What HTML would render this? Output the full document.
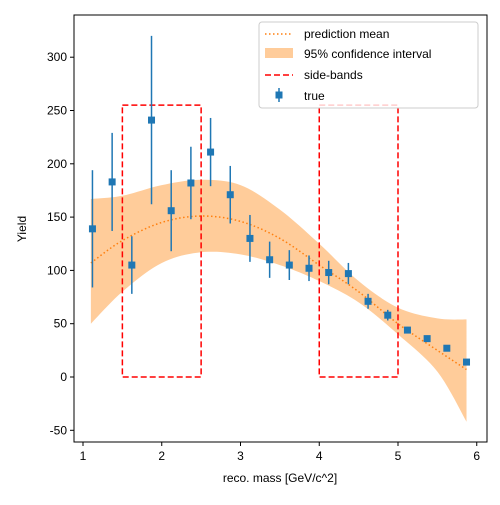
<!DOCTYPE html>
<html><head><meta charset="utf-8"><style>
body{margin:0;background:#fff;}
svg text{font-family:"Liberation Sans","DejaVu Sans",sans-serif;fill:#000;}
</style></head><body>
<svg id="chart" width="500" height="500" xmlns="http://www.w3.org/2000/svg">
</svg>
<script>
const xs=[1.12,1.37,1.62,1.87,2.12,2.37,2.62,2.87,3.12,3.37,3.62,3.87,4.12,4.37,4.62,4.87,5.12,5.37,5.62,5.87];
const ys=[139,183,105,241,156,182,211,171,130,110,105,102,98,97,71,58,44,36,27,14];
const errs=[55,46,27,79,38,34,32,27,22,17,14,12,11,10,7,5,3,3,2,2];
const curveX=[1.1,1.5,2,2.5,3,3.5,4,4.5,5,5.5,5.87];
const curveMean=[107,128,145,151,146,130,105,80,50,25,7];
const curveLo=[50,80,107,117,115,105,90,70,40,5,-42];
const curveHi=[167,170,180,185,180,157,125,90,65,55,54];
const bands=[[1.5,2.5],[4,5]];
const bandTop=255;
const xTicks=[1,2,3,4,5,6];
const yTicks=[-50,0,50,100,150,200,250,300];
const L=74,R=487,T=15,B=442;
const X=v=>83+(v-1)*78.75;
const Y=v=>377-v*1.066;
const NS="http://www.w3.org/2000/svg";
const svg=document.getElementById('chart');
function mk(tag,attrs,parent){const e=document.createElementNS(NS,tag);for(const k in attrs)e.setAttribute(k,attrs[k]);(parent||svg).appendChild(e);return e;}
// smooth (Catmull-Rom) sampled points
function smooth(xa,ya){const out=[];const n=xa.length;
 for(let i=0;i<n-1;i++){const p0=i>0?i-1:i,p3=i+2<n?i+2:i+1;
  for(let s=0;s<10;s++){const t=s/10,t2=t*t,t3=t2*t;
   const f=(a,b,c,d)=>0.5*(2*b+(-a+c)*t+(2*a-5*b+4*c-d)*t2+(-a+3*b-3*c+d)*t3);
   out.push([f(xa[p0],xa[i],xa[i+1],xa[p3]),f(ya[p0],ya[i],ya[i+1],ya[p3])]);}}
 out.push([xa[n-1],ya[n-1]]);return out;}
const hi=smooth(curveX,curveHi),lo=smooth(curveX,curveLo),mn=smooth(curveX,curveMean);
let d='M'+hi.map(p=>X(p[0])+','+Y(p[1])).join('L');
for(let i=lo.length-1;i>=0;i--)d+='L'+X(lo[i][0])+','+Y(lo[i][1]);
let e=mk('path',{d:d+'Z',fill:'#ffbb78',opacity:'0.75'});


e=mk('path',{d:'M'+mn.map(p=>X(p[0])+','+Y(p[1])).join('L'),fill:'none',stroke:'#ff7f0e','stroke-width':1.5,'stroke-dasharray':'1.5,2.5'});


bands.forEach((b,i)=>{
 const r=mk('rect',{x:X(b[0]),y:Y(bandTop),width:X(b[1])-X(b[0]),height:Y(0)-Y(bandTop),fill:'none',stroke:'#ff0000','stroke-width':1.5,'stroke-dasharray':'6,3'});
 
 
});
xs.forEach((x,i)=>{
 const g=mk('g',{});
 
 
 mk('line',{x1:X(x),x2:X(x),y1:Y(ys[i]-errs[i]),y2:Y(ys[i]+errs[i]),stroke:'#1f77b4','stroke-width':1.5},g);
 mk('rect',{x:X(x)-3.5,y:Y(ys[i])-3.5,width:7,height:7,fill:'#1f77b4'},g);
});
e=mk('rect',{x:L,y:T,width:R-L,height:B-T,fill:'none',stroke:'#000','stroke-width':1});


xTicks.forEach(t=>{mk('line',{x1:X(t),x2:X(t),y1:B,y2:B+4,stroke:'#000'});
 const tx=mk('text',{x:X(t),y:B+18,'text-anchor':'middle','font-size':12});tx.textContent=t;
 });
yTicks.forEach(t=>{mk('line',{x1:L-4,x2:L,y1:Y(t),y2:Y(t),stroke:'#000'});
 const tx=mk('text',{x:L-7,y:Y(t)+4,'text-anchor':'end','font-size':12});tx.textContent=t;
 });
</script>
<svg width="500" height="500" style="position:absolute;left:0;top:0" xmlns="http://www.w3.org/2000/svg">
<text x="280" y="482" text-anchor="middle" font-size="12">reco. mass [GeV/c^2]</text>
<text x="26" y="229" text-anchor="middle" font-size="12" transform="rotate(-90 26 229)">Yield</text>
<g>
<rect x="259" y="22" width="219" height="86" rx="3" fill="#fff" fill-opacity="0.8" stroke="#ccc"/>
<line x1="265" y1="34" x2="293" y2="34" stroke="#ff7f0e" stroke-width="1.5" stroke-dasharray="1.5,2.5"/>
<text x="304" y="38" font-size="12">prediction mean</text>
<rect x="265" y="48" width="28" height="10" fill="#ffbb78" opacity="0.75"/>
<text x="304" y="58" font-size="12">95% confidence interval</text>
<line x1="265" y1="75" x2="293" y2="75" stroke="#ff0000" stroke-width="1.5" stroke-dasharray="6,3"/>
<text x="304" y="79" font-size="12">side-bands</text>
<line x1="279" y1="88" x2="279" y2="102" stroke="#1f77b4" stroke-width="1.5"/>
<rect x="275.5" y="91.5" width="7" height="7" fill="#1f77b4"/>
<text x="304" y="100" font-size="12">true</text>
</g>
</svg>
</body></html>
